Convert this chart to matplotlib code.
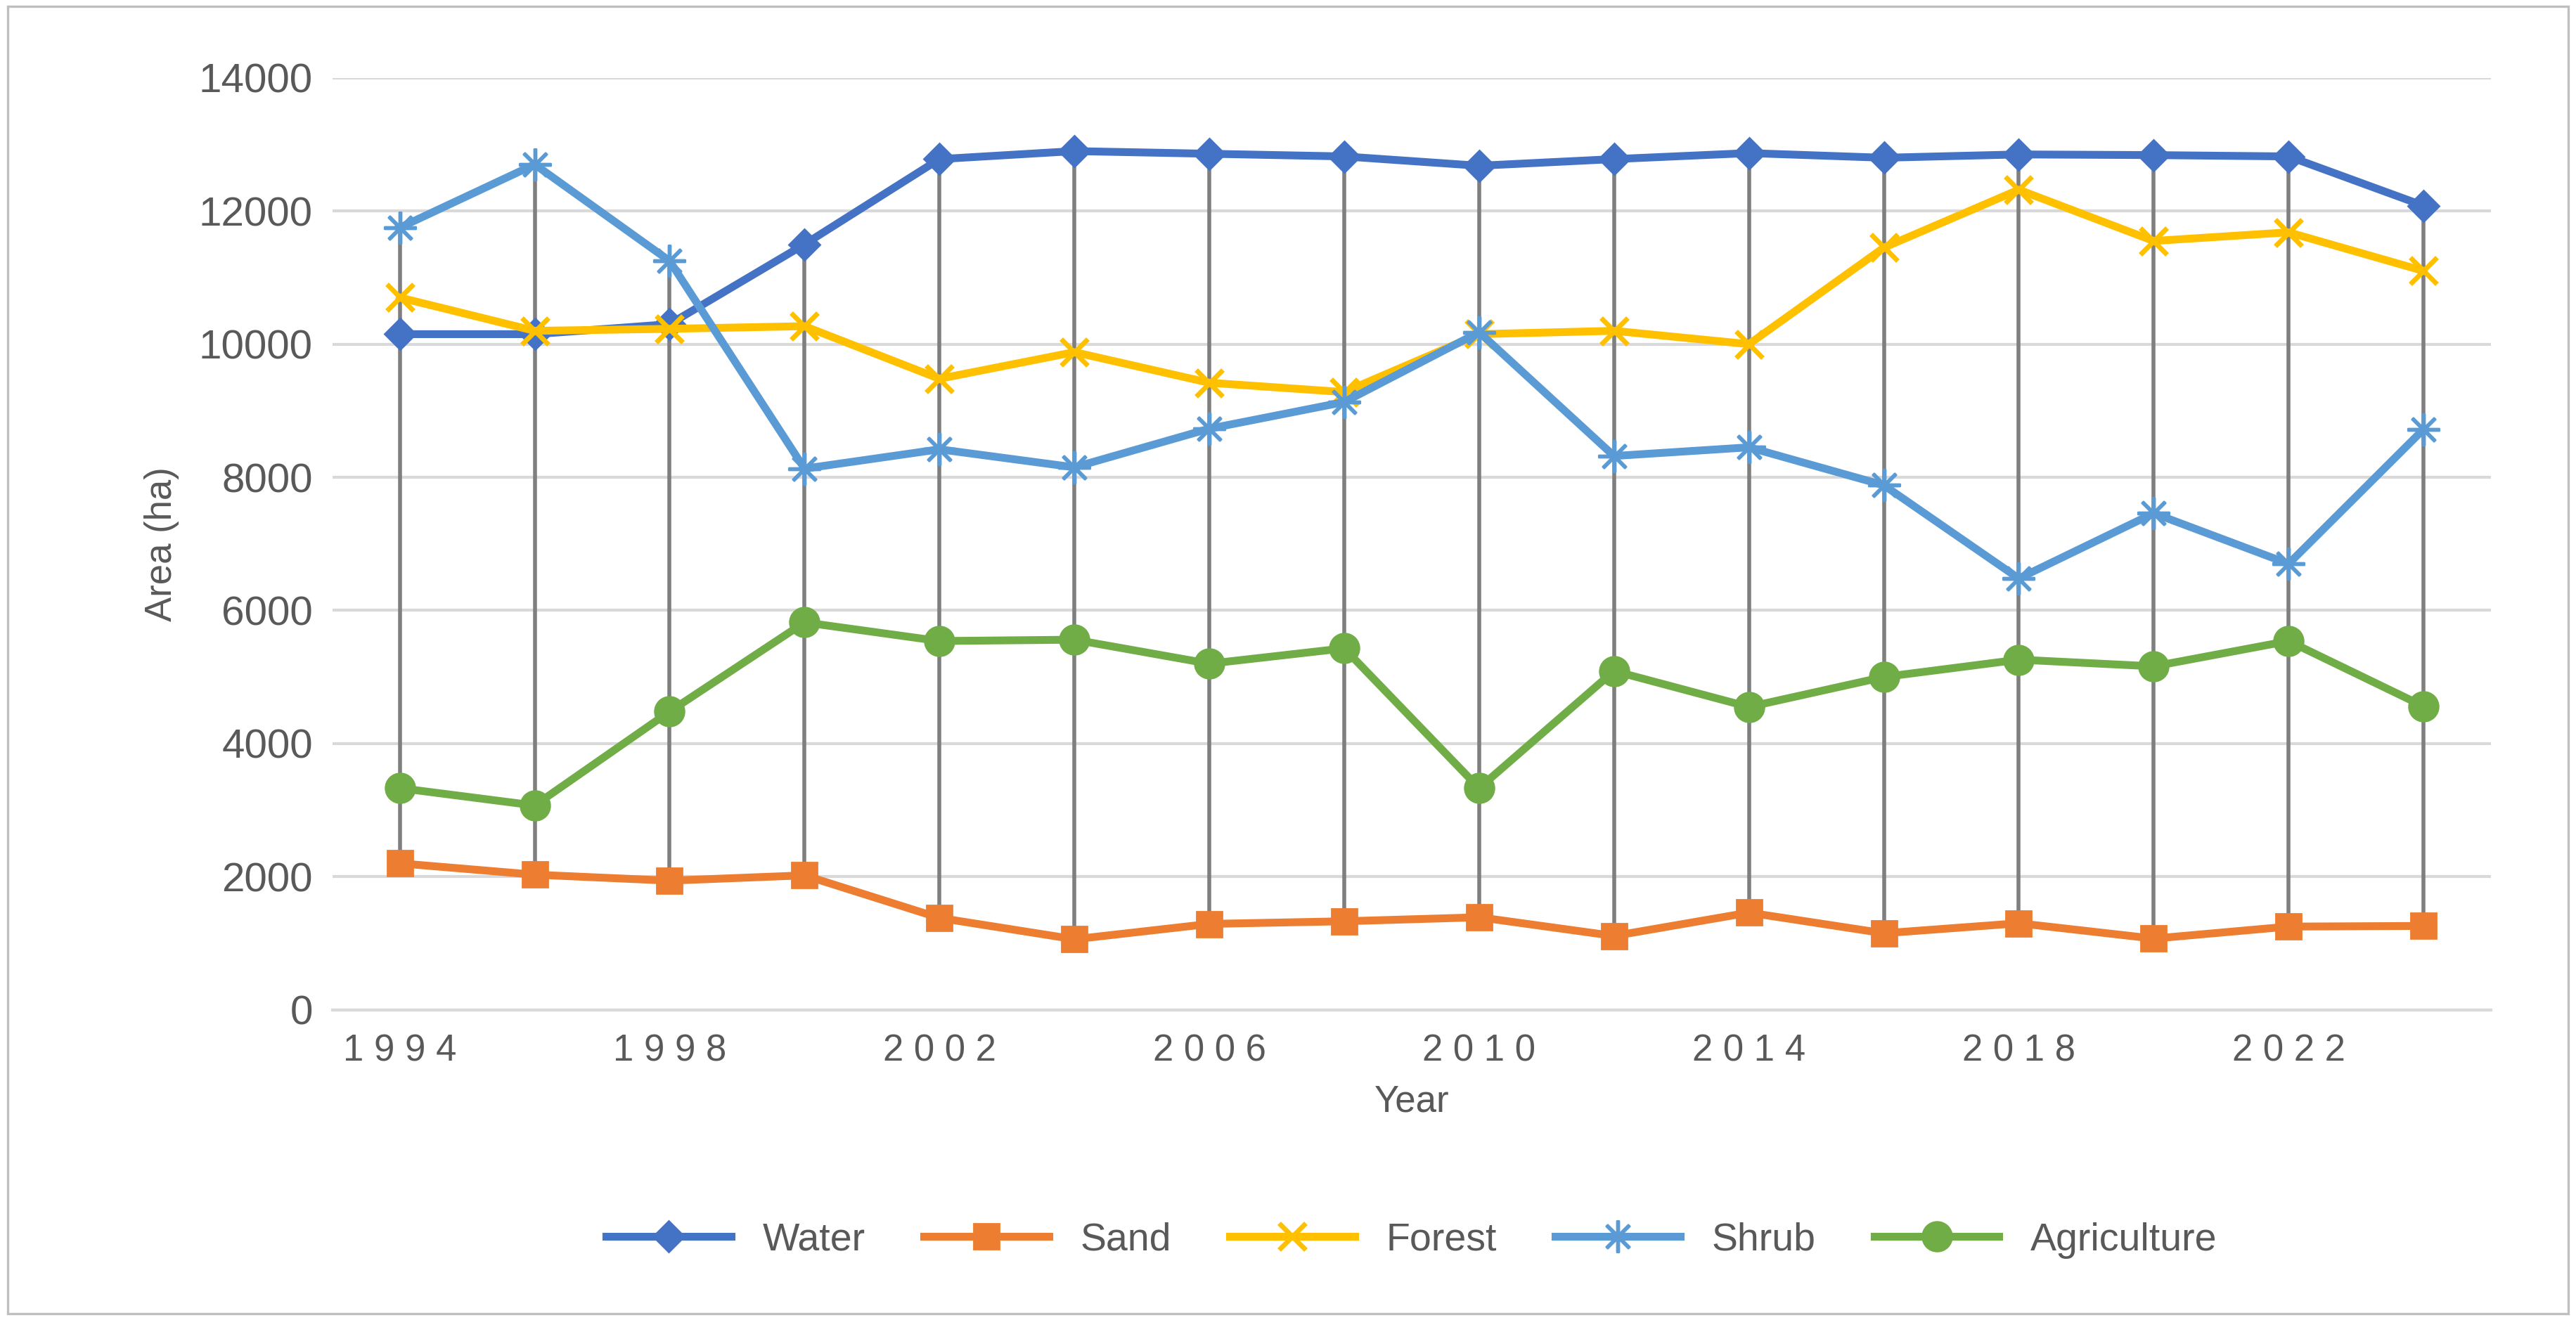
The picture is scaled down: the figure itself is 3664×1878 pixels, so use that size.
import matplotlib.pyplot as plt
import numpy as np

plt.rcParams['font.family'] = ['Liberation Sans', 'DejaVu Sans']

years = list(range(1994, 2025, 2))
water = [10150, 10150, 10300, 11500, 12780, 12900, 12860, 12820, 12680, 12780, 12870, 12800, 12850, 12840, 12820, 12080]
sand = [2200, 2030, 1940, 2020, 1380, 1060, 1290, 1330, 1390, 1110, 1460, 1150, 1300, 1070, 1250, 1260]
forest = [10700, 10200, 10230, 10270, 9480, 9880, 9420, 9280, 10150, 10200, 10000, 11450, 12320, 11550, 11680, 11100]
shrub = [11750, 12700, 11250, 8130, 8420, 8150, 8730, 9130, 10180, 8320, 8450, 7880, 6480, 7460, 6700, 8720]
agri = [3330, 3070, 4480, 5820, 5540, 5560, 5200, 5430, 3330, 5090, 4550, 5000, 5260, 5160, 5540, 4560]

fig = plt.figure(figsize=(18.32, 9.39), dpi=200)
ax = fig.add_axes([0.129, 0.235, 0.838, 0.706])
fig.patches.append(plt.Rectangle((0.003, 0.005), 0.994, 0.99, transform=fig.transFigure,
                                 fill=False, edgecolor='#bfbfbf', linewidth=1.2))

allv = np.array([water, sand, forest, shrub, agri])
ax.vlines(years, allv.min(axis=0), allv.max(axis=0), color='#7f7f7f', linewidth=2, zorder=1)

series = [
    ('Water', water, '#4472c4', 'D', 11),
    ('Sand', sand, '#ed7d31', 's', 13),
    ('Forest', forest, '#ffc000', 'x', 14),
    ('Shrub', shrub, '#5b9bd5', '$\u2733$', 16),
    ('Agriculture', agri, '#70ad47', 'o', 15),
]
for name, vals, c, m, ms in series:
    kw = dict(markeredgewidth=2.5) if m == 'x' else {}
    ax.plot(years, vals, color=c, linewidth=4, marker=m, markersize=ms, label=name, zorder=3, **kw)

ax.set_xlim(1993, 2025)
ax.set_ylim(0, 14000)
ax.set_yticks(range(0, 14001, 2000))
ax.set_xticks(range(1994, 2023, 4))
ax.set_xticklabels([' '.join(str(y)) for y in range(1994, 2023, 4)])
ax.grid(axis='y', color='#d9d9d9', linewidth=1.5)
ax.set_axisbelow(True)
for s in ['top', 'right', 'left']:
    ax.spines[s].set_visible(False)
ax.spines['bottom'].set_color('#d9d9d9')
ax.spines['bottom'].set_linewidth(1.5)
ax.tick_params(axis='y', length=0, labelsize=21, colors='#595959', pad=10)
ax.tick_params(axis='x', length=0, labelsize=19, colors='#595959', pad=12)
ax.set_xlabel('Year', fontsize=19, color='#595959', labelpad=8)
ax.set_ylabel('Area (ha)', fontsize=19, color='#595959', labelpad=10)
ax.legend(loc='upper center', bbox_to_anchor=(0.5, -0.19), ncol=5, frameon=False,
          fontsize=20, labelcolor='#595959', handlelength=3.2, columnspacing=1.5)

fig.savefig('out.png')
